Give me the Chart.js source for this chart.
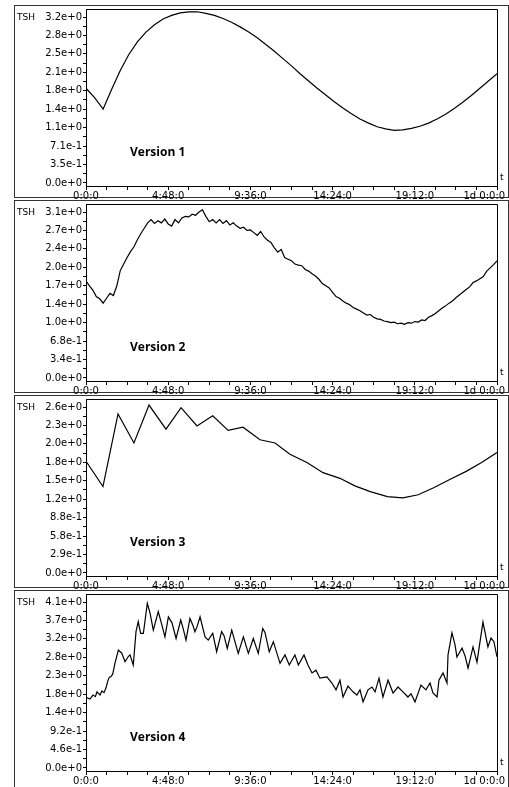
<!DOCTYPE html>
<html><head><meta charset="utf-8">
<script src="https://cdn.jsdelivr.net/npm/chart.js@4.4.1/dist/chart.umd.min.js"></script>
<style>
html,body{margin:0;padding:0;background:#fff;}
body{width:509px;height:787px;overflow:hidden;position:relative;}
.frame{position:absolute;left:14px;width:495px;border:1px solid #333;box-sizing:border-box;}
canvas{position:absolute;left:0;}
.lbl{position:absolute;font:9px "DejaVu Sans";color:#000;line-height:9px;white-space:nowrap;}
.ver{position:absolute;font:700 12px "Open Sans";color:#000;line-height:12px;white-space:nowrap;}
</style></head><body>
<script>
// ---------- data ----------
const xTickHours = [0, 4.8, 9.6, 14.4, 19.2, 24];
const xTickLabels = ["0:0:0", "4:48:0", "9:36:0", "14:24:0", "19:12:0", "1d 0:0:0"];
const yAxisTitle = "TSH";
const xAxisTitle = "t";
const versionTitles = ["Version 1", "Version 2", "Version 3", "Version 4"];

const yTickLabels1 = ["0.0e+0","3.5e-1","7.1e-1","1.1e+0","1.4e+0","1.8e+0","2.1e+0","2.5e+0","2.8e+0","3.2e+0"];
const yTickLabels2 = ["0.0e+0","3.4e-1","6.8e-1","1.0e+0","1.4e+0","1.7e+0","2.0e+0","2.4e+0","2.7e+0","3.1e+0"];
const yTickLabels3 = ["0.0e+0","2.9e-1","5.8e-1","8.8e-1","1.2e+0","1.5e+0","1.8e+0","2.0e+0","2.3e+0","2.6e+0"];
const yTickLabels4 = ["0.0e+0","4.6e-1","9.2e-1","1.4e+0","1.8e+0","2.3e+0","2.8e+0","3.2e+0","3.7e+0","4.1e+0"];
const yTickStep1 = 0.3544, yTickStep2 = 0.34, yTickStep3 = 0.2922, yTickStep4 = 0.46;

// Version 1 (smooth)
const v1Time = [0,0.5,1,1.5,2,2.5,3,3.5,4,4.5,5,5.5,6,6.5,7,7.5,8,8.5,9,9.5,10,10.5,11,11.5,12,12.5,13,13.5,14,14.5,15,15.5,16,16.5,17,17.5,18,18.5,19,19.5,20,20.5,21,21.5,22,22.5,23,23.5,24];
const v1Value = [1.82,1.64,1.42,1.80,2.16,2.47,2.71,2.90,3.04,3.15,3.22,3.27,3.29,3.29,3.26,3.22,3.16,3.09,3.00,2.90,2.79,2.66,2.53,2.39,2.25,2.10,1.96,1.82,1.69,1.56,1.44,1.33,1.23,1.15,1.08,1.04,1.01,1.02,1.05,1.09,1.15,1.23,1.32,1.43,1.55,1.68,1.82,1.96,2.10];

// Version 2 (noisy)
const v2Time = [0,0.2,0.4,0.6,0.8,1,1.2,1.4,1.6,1.8,2,2.2,2.4,2.6,2.8,3,3.2,3.4,3.6,3.8,4,4.2,4.4,4.6,4.8,5,5.2,5.4,5.6,5.8,6,6.2,6.4,6.6,6.8,7,7.2,7.4,7.6,7.8,8,8.2,8.4,8.6,8.8,9,9.2,9.4,9.6,9.8,10,10.2,10.4,10.6,10.8,11,11.2,11.4,11.6,11.8,12,12.2,12.4,12.6,12.8,13,13.2,13.4,13.6,13.8,14,14.2,14.4,14.6,14.8,15,15.2,15.4,15.6,15.8,16,16.2,16.4,16.6,16.8,17,17.2,17.4,17.6,17.8,18,18.2,18.4,18.6,18.8,19,19.2,19.4,19.6,19.8,20,20.2,20.4,20.6,20.8,21,21.2,21.4,21.6,21.8,22,22.2,22.4,22.6,22.8,23,23.2,23.4,23.6,23.8,24];
const v2Value = [1.79,1.70,1.62,1.50,1.46,1.38,1.47,1.56,1.52,1.70,1.98,2.10,2.22,2.33,2.42,2.55,2.66,2.76,2.86,2.92,2.85,2.90,2.86,2.93,2.84,2.80,2.92,2.86,2.95,2.98,2.97,3.02,3.00,3.06,3.10,2.98,2.88,2.92,2.86,2.92,2.85,2.90,2.82,2.86,2.80,2.76,2.78,2.72,2.73,2.68,2.63,2.70,2.60,2.54,2.50,2.40,2.32,2.37,2.22,2.19,2.16,2.10,2.08,2.07,2.00,1.97,1.92,1.88,1.82,1.74,1.70,1.66,1.58,1.50,1.47,1.42,1.38,1.35,1.30,1.27,1.24,1.20,1.16,1.17,1.12,1.09,1.08,1.05,1.04,1.02,1.03,1.00,1.01,0.99,1.02,1.01,1.04,1.03,1.07,1.06,1.12,1.15,1.19,1.24,1.29,1.33,1.38,1.42,1.48,1.53,1.58,1.63,1.68,1.76,1.79,1.83,1.87,1.97,2.03,2.09,2.16];

// Version 3 (sparse samples)
const v3Time = [0,0.99,1.87,2.80,3.68,4.67,5.55,6.48,7.40,8.30,9.17,10.16,11.04,11.91,12.90,13.84,14.83,15.7,16.6,17.6,18.5,19.4,20.3,21.3,22.2,23.1,24];
const v3Value = [1.77,1.37,2.52,2.06,2.66,2.28,2.62,2.33,2.49,2.26,2.31,2.11,2.06,1.88,1.75,1.59,1.50,1.38,1.29,1.21,1.19,1.24,1.35,1.49,1.61,1.75,1.91];

// Version 4 (oscillating)
const v4Time = [0,0.23,0.41,0.55,0.64,0.82,0.93,1.05,1.17,1.28,1.36,1.46,1.56,1.69,1.89,2.08,2.28,2.47,2.57,2.76,2.92,3.05,3.19,3.35,3.58,3.74,3.93,4.22,4.44,4.61,4.81,5.02,5.26,5.53,5.66,5.84,6.07,6.25,6.36,6.48,6.66,6.95,7.14,7.40,7.63,7.92,8.06,8.25,8.51,8.89,9.19,9.48,9.77,10.06,10.32,10.45,10.70,10.94,11.33,11.62,11.87,12.20,12.40,12.73,12.96,13.20,13.43,13.66,13.90,14.07,14.36,14.60,14.83,15.01,15.30,15.59,15.82,16.00,16.18,16.47,16.70,16.88,17.11,17.34,17.64,17.93,18.22,18.51,18.80,18.98,19.21,19.56,19.85,20.09,20.26,20.50,20.61,20.85,21.08,21.14,21.37,21.55,21.66,21.96,22.13,22.31,22.60,22.83,23.18,23.47,23.65,23.82,24.0];
const v4Value = [1.76,1.72,1.82,1.78,1.90,1.82,1.92,1.88,2.00,2.18,2.26,2.28,2.34,2.61,2.94,2.87,2.65,2.78,2.82,2.57,3.40,3.65,3.36,3.36,4.11,3.86,3.44,3.90,3.55,3.27,3.77,3.62,3.23,3.69,3.50,3.19,3.73,3.55,3.40,3.52,3.77,3.27,3.19,3.36,2.90,3.40,3.30,2.98,3.44,2.86,3.27,2.86,3.23,2.86,3.48,3.38,2.90,3.15,2.61,2.82,2.57,2.82,2.57,2.82,2.57,2.37,2.44,2.24,2.26,2.27,2.12,1.95,2.19,1.77,2.04,1.90,1.82,1.95,1.65,1.95,2.02,1.90,2.24,1.77,2.19,1.87,2.02,1.90,1.77,1.85,1.65,2.07,1.95,2.12,1.87,1.77,2.19,2.37,2.12,2.82,3.37,3.07,2.77,2.99,2.80,2.49,3.02,2.64,3.64,3.02,3.24,3.15,2.77];

// ---------- layout ----------
const PANEL_PITCH = 195;
const PLOT_LEFT = 86, PLOT_RIGHT = 497, PLOT_TOP = 9, PLOT_BOTTOM = 186;
const TICK_FONT = { family: "DejaVu Sans", size: 10 };

const framePlugin = {
  id: 'frame',
  afterDraw(c) {
    const a = c.chartArea, g = c.ctx;
    g.save();
    g.strokeStyle = '#000'; g.lineWidth = 1;
    g.beginPath();
    g.moveTo(a.left, Math.round(a.top) + 0.5);
    g.lineTo(Math.round(a.right) + 0.5, Math.round(a.top) + 0.5);
    g.lineTo(Math.round(a.right) + 0.5, a.bottom);
    g.stroke();
    g.restore();
  }
};

function addPanel(k, times, values, yStep, yLabels, canvasH) {
  const top = k * PANEL_PITCH;
  const frame = document.createElement('div');
  frame.className = 'frame';
  frame.style.top = (top + 5) + 'px';
  frame.style.height = (k === 3 ? 220 : 193) + 'px';
  document.body.appendChild(frame);

  const cv = document.createElement('canvas');
  cv.width = 509; cv.height = canvasH;
  cv.style.width = '509px'; cv.style.height = canvasH + 'px';
  cv.style.top = top + 'px';
  document.body.appendChild(cv);

  const t1 = document.createElement('div'); t1.className = 'lbl';
  t1.textContent = yAxisTitle; t1.style.left = '17px'; t1.style.top = (top + 13) + 'px';
  document.body.appendChild(t1);
  const t2 = document.createElement('div'); t2.className = 'lbl';
  t2.textContent = xAxisTitle; t2.style.left = '500px'; t2.style.top = (top + 173) + 'px';
  document.body.appendChild(t2);
  const t3 = document.createElement('div'); t3.className = 'ver';
  t3.textContent = versionTitles[k]; t3.style.left = '130px'; t3.style.top = (top + 146) + 'px';
  document.body.appendChild(t3);

  const yMin = -yStep * 0.163, yMax = yStep * 9.434;
  const lastX = xTickHours.length - 1;

  new Chart(cv.getContext('2d'), {
    type: 'line',
    data: { datasets: [{
      data: times.map((t, i) => ({ x: t, y: values[i] })),
      borderColor: '#000', borderWidth: 1.2, pointRadius: 0, tension: 0, fill: false
    }] },
    options: {
      animation: false, responsive: false, devicePixelRatio: 1,
      layout: { padding: { top: PLOT_TOP, right: 509 - PLOT_RIGHT, left: 0, bottom: 0 } },
      plugins: { legend: { display: false }, tooltip: { enabled: false } },
      scales: {
        x: {
          type: 'linear', min: 0, max: 24,
          afterBuildTicks: s => {
            const ticks = [];
            for (let m = 0; m < xTickHours.length; m++) {
              ticks.push({ value: xTickHours[m] });
              if (m < lastX) for (let j = 1; j < 4; j++) ticks.push({ value: xTickHours[m] + (xTickHours[m + 1] - xTickHours[m]) * j / 4 });
            }
            s.ticks = ticks;
          },
          afterFit: s => { s.height = canvasH - PLOT_BOTTOM; s.paddingLeft = 0; s.paddingRight = 0; },
          ticks: {
            autoSkip: false, maxRotation: 0, minRotation: 0, padding: 0, color: '#000', font: TICK_FONT,
            callback: (v, i) => {
              if (i % 4 !== 0) return '';
              const m = i / 4;
              return m === lastX ? xTickLabels[m] + '        ' : xTickLabels[m];
            }
          },
          grid: { drawOnChartArea: false, drawTicks: true, tickLength: 4, color: '#000', lineWidth: 1 },
          border: { display: true, color: '#000', width: 1 }
        },
        y: {
          type: 'linear', min: yMin, max: yMax,
          afterBuildTicks: s => {
            const ticks = [];
            for (let n = 0; n < yLabels.length; n++) {
              ticks.push({ value: n * yStep });
              if (n < yLabels.length - 1) ticks.push({ value: (n + 0.5) * yStep });
            }
            s.ticks = ticks;
          },
          afterFit: s => { s.width = PLOT_LEFT; s.paddingTop = 0; s.paddingBottom = 0; },
          ticks: {
            autoSkip: false, padding: 1, color: '#000', font: TICK_FONT,
            callback: (v, i) => (i % 2 === 0 ? yLabels[i / 2] : '')
          },
          grid: { drawOnChartArea: false, drawTicks: true, tickLength: 3, color: '#000', lineWidth: 1 },
          border: { display: true, color: '#000', width: 1 }
        }
      }
    },
    plugins: [framePlugin]
  });
}

addPanel(0, v1Time, v1Value, yTickStep1, yTickLabels1, 200);
addPanel(1, v2Time, v2Value, yTickStep2, yTickLabels2, 200);
addPanel(2, v3Time, v3Value, yTickStep3, yTickLabels3, 200);
addPanel(3, v4Time, v4Value, yTickStep4, yTickLabels4, 202);
</script>
</body></html>
